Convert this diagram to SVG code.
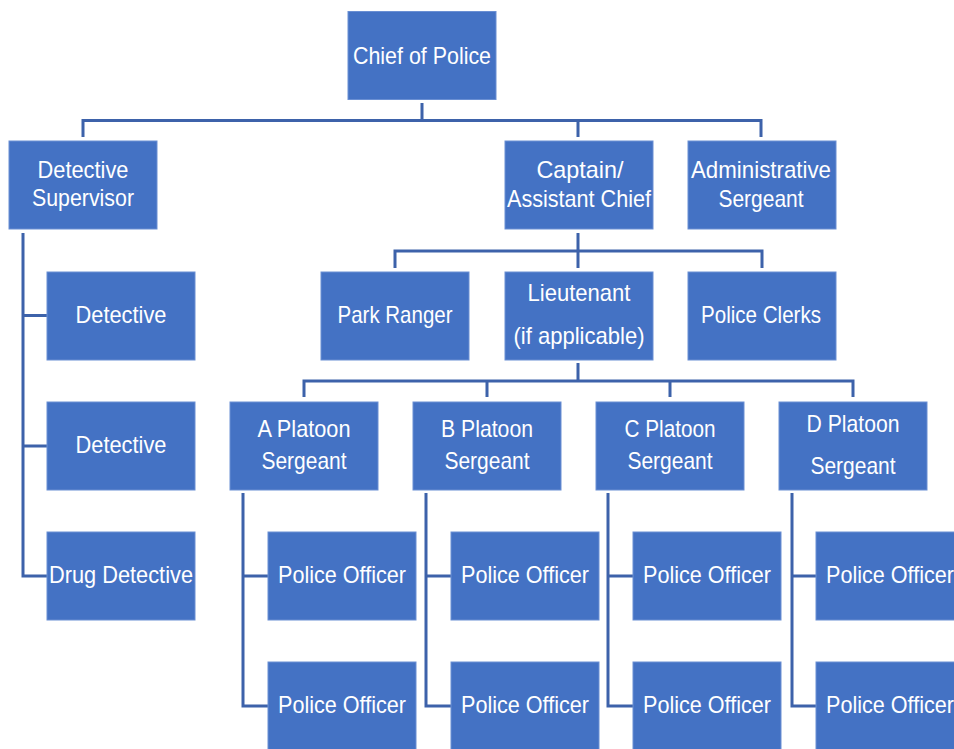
<svg xmlns="http://www.w3.org/2000/svg" width="954" height="749" viewBox="0 0 954 749">
<style>
.box{fill:#4472C4;stroke:#6a8fd3;stroke-width:1}
.t{font-family:"Liberation Sans",Arial,sans-serif;font-size:24px;fill:#ffffff;text-anchor:middle}
.c{fill:none;stroke:#3d62aa;stroke-width:3}
</style>
<rect width="954" height="749" fill="#ffffff"/>
<g id="connectors">
<path class="c" d="M422,103 V120.5 M83,137 V120.5 H761 V137 M578,120.5 V137"/>
<path class="c" d="M578,233 V251 M395,268 V251 H762 V268 M578,251 V268"/>
<path class="c" d="M578,363 V381 M304,397 V381 H853 V397 M487,381 V397 M670,381 V397"/>
<path class="c" d="M23,233 V576 H47 M23,315.5 H47 M23,446 H47"/>
<path class="c" d="M243,493 V706 H268 M243,576 H268"/>
<path class="c" d="M426,493 V706 H451 M426,576 H451"/>
<path class="c" d="M608,493 V706 H633 M608,576 H633"/>
<path class="c" d="M792,493 V706 H816 M792,576 H816"/>
</g>
<g id="chief"><rect class="box" x="348" y="11.5" width="148" height="88"/><text class="t" x="422" y="63.5" textLength="138" lengthAdjust="spacingAndGlyphs">Chief of Police</text></g>
<g id="detective-supervisor"><rect class="box" x="9" y="141" width="148" height="88"/><text class="t" x="83" y="178" textLength="91" lengthAdjust="spacingAndGlyphs">Detective</text><text class="t" x="83" y="206" textLength="102" lengthAdjust="spacingAndGlyphs">Supervisor</text></g>
<g id="captain"><rect class="box" x="505" y="141" width="148" height="88"/><text class="t" x="580" y="178" textLength="87" lengthAdjust="spacingAndGlyphs">Captain/</text><text class="t" x="579" y="207" textLength="144" lengthAdjust="spacingAndGlyphs">Assistant Chief</text></g>
<g id="admin-sergeant"><rect class="box" x="688" y="141" width="148" height="88"/><text class="t" x="761" y="178" textLength="140" lengthAdjust="spacingAndGlyphs">Administrative</text><text class="t" x="761" y="207" textLength="85" lengthAdjust="spacingAndGlyphs">Sergeant</text></g>
<g id="park-ranger"><rect class="box" x="321" y="272" width="148" height="88"/><text class="t" x="395" y="323" textLength="115" lengthAdjust="spacingAndGlyphs">Park Ranger</text></g>
<g id="lieutenant"><rect class="box" x="505" y="272" width="148" height="88"/><text class="t" x="579" y="301" textLength="103" lengthAdjust="spacingAndGlyphs">Lieutenant</text><text class="t" x="579" y="344" textLength="131" lengthAdjust="spacingAndGlyphs">(if applicable)</text></g>
<g id="police-clerks"><rect class="box" x="688" y="272" width="148" height="88"/><text class="t" x="761" y="323" textLength="120" lengthAdjust="spacingAndGlyphs">Police Clerks</text></g>
<g id="detective-1"><rect class="box" x="47" y="272" width="148" height="88"/><text class="t" x="121" y="323" textLength="91" lengthAdjust="spacingAndGlyphs">Detective</text></g>
<g id="detective-2"><rect class="box" x="47" y="402" width="148" height="88"/><text class="t" x="121" y="453" textLength="91" lengthAdjust="spacingAndGlyphs">Detective</text></g>
<g id="drug-detective"><rect class="box" x="47" y="532" width="148" height="88"/><text class="t" x="121" y="583" textLength="144" lengthAdjust="spacingAndGlyphs">Drug Detective</text></g>
<g id="a-platoon"><rect class="box" x="230" y="402" width="148" height="88"/><text class="t" x="304" y="437" textLength="93" lengthAdjust="spacingAndGlyphs">A Platoon</text><text class="t" x="304" y="469" textLength="85" lengthAdjust="spacingAndGlyphs">Sergeant</text></g>
<g id="b-platoon"><rect class="box" x="413" y="402" width="148" height="88"/><text class="t" x="487" y="437" textLength="92" lengthAdjust="spacingAndGlyphs">B Platoon</text><text class="t" x="487" y="469" textLength="85" lengthAdjust="spacingAndGlyphs">Sergeant</text></g>
<g id="c-platoon"><rect class="box" x="596" y="402" width="148" height="88"/><text class="t" x="670" y="437" textLength="91" lengthAdjust="spacingAndGlyphs">C Platoon</text><text class="t" x="670" y="469" textLength="85" lengthAdjust="spacingAndGlyphs">Sergeant</text></g>
<g id="d-platoon"><rect class="box" x="779" y="402" width="148" height="88"/><text class="t" x="853" y="432" textLength="93" lengthAdjust="spacingAndGlyphs">D Platoon</text><text class="t" x="853" y="474" textLength="85" lengthAdjust="spacingAndGlyphs">Sergeant</text></g>
<g id="officer-a1"><rect class="box" x="268" y="532" width="148" height="88"/><text class="t" x="342" y="583" textLength="128" lengthAdjust="spacingAndGlyphs">Police Officer</text></g>
<g id="officer-a2"><rect class="box" x="268" y="662" width="148" height="88"/><text class="t" x="342" y="713" textLength="128" lengthAdjust="spacingAndGlyphs">Police Officer</text></g>
<g id="officer-b1"><rect class="box" x="451" y="532" width="148" height="88"/><text class="t" x="525" y="583" textLength="128" lengthAdjust="spacingAndGlyphs">Police Officer</text></g>
<g id="officer-b2"><rect class="box" x="451" y="662" width="148" height="88"/><text class="t" x="525" y="713" textLength="128" lengthAdjust="spacingAndGlyphs">Police Officer</text></g>
<g id="officer-c1"><rect class="box" x="633" y="532" width="148" height="88"/><text class="t" x="707" y="583" textLength="128" lengthAdjust="spacingAndGlyphs">Police Officer</text></g>
<g id="officer-c2"><rect class="box" x="633" y="662" width="148" height="88"/><text class="t" x="707" y="713" textLength="128" lengthAdjust="spacingAndGlyphs">Police Officer</text></g>
<g id="officer-d1"><rect class="box" x="816" y="532" width="148" height="88"/><text class="t" x="890" y="583" textLength="128" lengthAdjust="spacingAndGlyphs">Police Officer</text></g>
<g id="officer-d2"><rect class="box" x="816" y="662" width="148" height="88"/><text class="t" x="890" y="713" textLength="128" lengthAdjust="spacingAndGlyphs">Police Officer</text></g>
</svg>
